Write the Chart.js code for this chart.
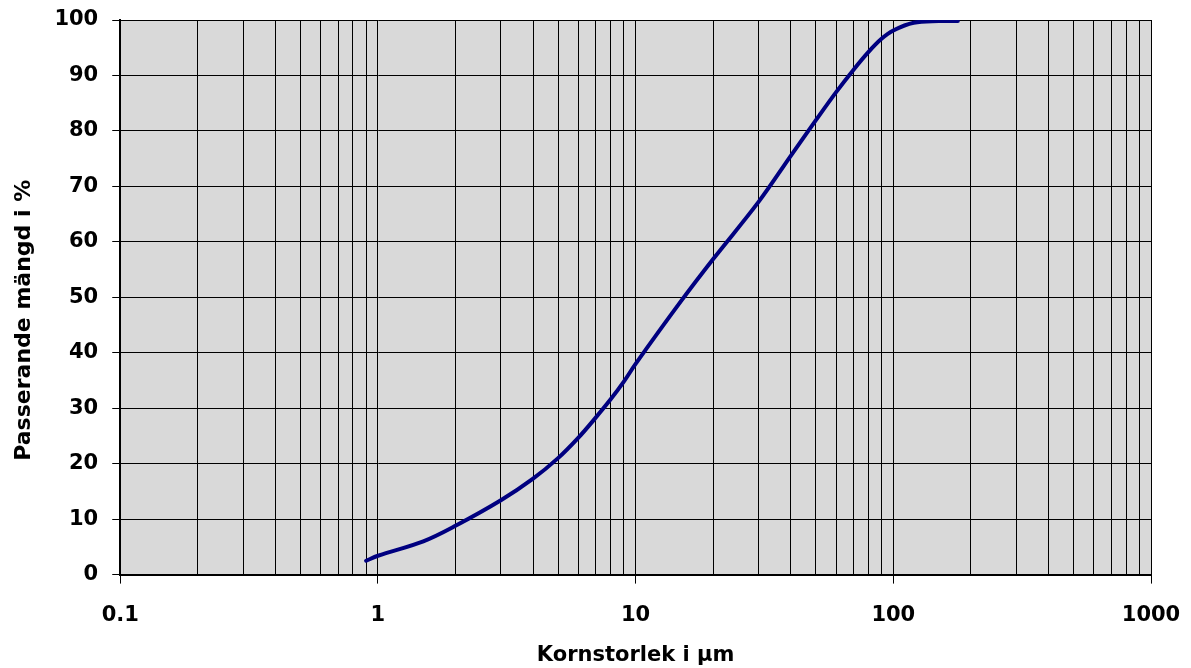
<!DOCTYPE html>
<html>
<head>
<meta charset="utf-8">
<script src="https://cdn.jsdelivr.net/npm/chart.js@4.4.1/dist/chart.umd.min.js"></script>
<style>
  html, body { margin: 0; padding: 0; background: #fff; }
  #wrap { width: 1191px; height: 668px; }
</style>
</head>
<body>
<div id="wrap"><canvas id="Sikt"></canvas></div>
<script>
// kornstorlek (µm) och passerande mängd (%)
const sizes = [0.9, 1, 1.5, 2, 3, 4, 5, 6, 7, 8, 9, 10, 15, 20, 30, 40, 50, 60, 70, 80, 90, 100, 120, 150, 178];
const passing = [2.5, 3.4, 6.0, 8.8, 13.4, 17.3, 21.0, 24.7, 28.3, 31.6, 34.8, 38.0, 49.3, 56.9, 67.2, 75.5, 81.9, 87.0, 91.0, 94.2, 96.6, 98.1, 99.5, 99.8, 99.8];

// x-axelns dekader och mellanliggande rutnätslinjer
const decades = [0.1, 1, 10, 100, 1000];
const decadeLabels = ["0.1", "1", "10", "100", "1000"];
const mantissas = [1, 2, 3, 4, 5, 6, 7, 8, 9];

const yMin = 0, yMax = 100, yStep = 10;

const gridValues = [];
decades.forEach((d, i) => {
  if (i === decades.length - 1) { gridValues.push(d); return; }
  mantissas.forEach(m => gridValues.push(d * m));
});

function decadeIndex(v) {
  return decades.findIndex(d => Math.abs(Math.log10(v) - Math.log10(d)) < 1e-6);
}

const fontFamily = "'DejaVu Sans', 'Liberation Sans', Arial, sans-serif";

// grå bakgrund i diagramytan
const plotBg = {
  id: "plotBg",
  beforeDraw(chart) {
    const { ctx, chartArea: a } = chart;
    ctx.save();
    ctx.fillStyle = "#d9d9d9";
    ctx.fillRect(a.left, a.top, a.right - a.left, a.bottom - a.top);
    ctx.restore();
  }
};

const ctx = document.getElementById("Sikt").getContext("2d");
new Chart(ctx, {
  type: "line",
  data: {
    datasets: [{
      label: "Passerande mängd",
      data: sizes.map((x, i) => ({ x: x, y: passing[i] })),
      borderColor: "#000080",
      borderWidth: 4,
      pointRadius: 0,
      fill: false,
      tension: 0.35,
      borderCapStyle: "round"
    }]
  },
  options: {
    responsive: true,
    maintainAspectRatio: false,
    animation: false,
    layout: { padding: { top: 20, right: 40, left: 11, bottom: 0 } },
    plugins: {
      legend: { display: false },
      tooltip: { enabled: false }
    },
    scales: {
      x: {
        type: "logarithmic",
        min: 0.1,
        max: 1000,
        afterBuildTicks(scale) {
          scale.ticks = gridValues.map(v => ({ value: v, major: decadeIndex(v) >= 0 }));
        },
        // etiketternas utstick ska inte flytta diagramytan
        afterFit(scale) {
          scale.paddingLeft = 0;
          scale.paddingRight = 0;
        },
        grid: {
          color: "#000",
          lineWidth: 1,
          drawTicks: true,
          tickLength: 9,
          tickColor: c => (c.tick && decadeIndex(c.tick.value) >= 0 ? "#000" : "rgba(0,0,0,0)")
        },
        border: { display: true, color: "#000", width: 2 },
        ticks: {
          autoSkip: false,
          maxRotation: 0,
          padding: 19,
          color: "#000",
          font: { family: fontFamily, weight: "bold", size: 21 },
          callback: v => {
            const i = decadeIndex(v);
            return i >= 0 ? decadeLabels[i] : "";
          }
        },
        title: {
          display: true,
          text: "Kornstorlek i µm",
          color: "#000",
          font: { family: fontFamily, weight: "bold", size: 21 },
          padding: { top: -4, bottom: 0 }
        }
      },
      y: {
        min: yMin,
        max: yMax,
        afterFit(scale) {
          scale.paddingTop = 12;
          scale.paddingBottom = 12;
        },
        ticks: {
          stepSize: yStep,
          padding: 14,
          color: "#000",
          font: { family: fontFamily, weight: "bold", size: 21 }
        },
        grid: { color: "#000", lineWidth: 1, tickLength: 8, tickColor: "#000" },
        border: { display: true, color: "#000", width: 2 },
        title: {
          display: true,
          text: "Passerande mängd i %\u00a0\u00a0\u00a0\u00a0\u00a0\u00a0",
          color: "#000",
          font: { family: fontFamily, weight: "bold", size: 22 },
          padding: { top: 0, bottom: 3 }
        }
      }
    }
  },
  plugins: [plotBg]
});
</script>
</body>
</html>
